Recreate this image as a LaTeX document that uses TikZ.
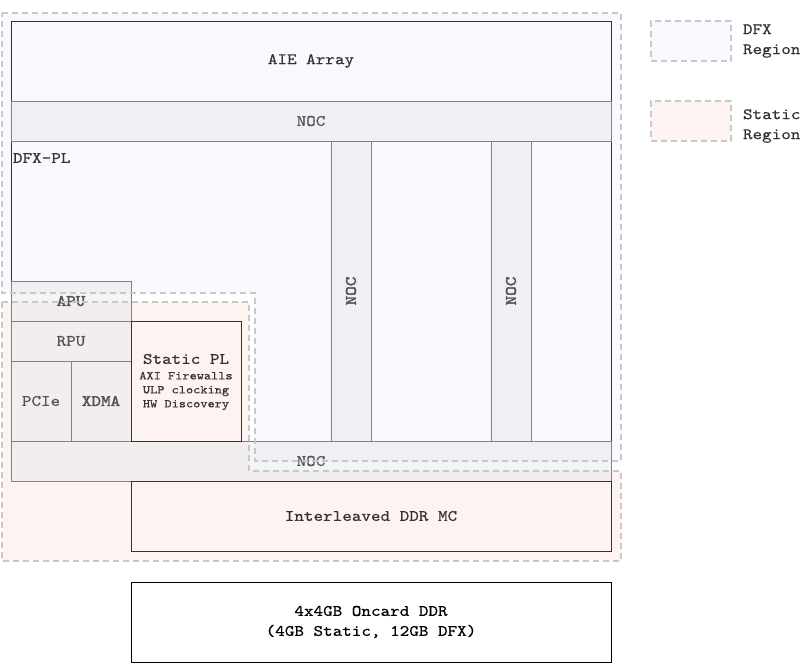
\documentclass[tikz,border=0pt]{standalone}
\usepackage{fontspec}
\newfontfamily\monofam{lmmono10-regular.otf}[FakeStretch=1.14, FakeBold=0.5,
  BoldFont=lmmono10-regular.otf, BoldFeatures={FakeBold=2.5}]
\begin{document}
\definecolor{dfxfill}{RGB}{247,249,254}
\definecolor{stfill}{RGB}{253,244,242}
\definecolor{nocfill}{RGB}{232,233,236}
\definecolor{regline}{RGB}{200,200,200}
\definecolor{darkline}{RGB}{51,51,51}
\definecolor{greyline}{RGB}{130,130,130}
\definecolor{greytext}{RGB}{85,85,85}
\begin{tikzpicture}[x=1pt,y=-1pt,
  every node/.style={inner sep=0pt, outer sep=0pt, font=\monofam\fontsize{16}{20}\selectfont},
  boldlbl/.style={font=\monofam\bfseries\fontsize{16}{20}\selectfont},
  mainbox/.style={draw=darkline, line width=1pt, rectangle, text=darkline},
  nocbox/.style={draw=greyline, line width=0.9pt, rectangle, fill=nocfill, fill opacity=0.5, text opacity=1, text=greytext},
  pinkbox/.style={draw=darkline, line width=1pt, rectangle, fill=stfill, text=darkline},
  region/.style={draw=regline, line width=1.6pt, dash pattern=on 6pt off 4pt},
  legtext/.style={anchor=west, align=left, text=darkline}]
\useasboundingbox (0,0) rectangle (800,662);

% region backgrounds
\fill[dfxfill] (2,13) -- (621,13) -- (621,461) -- (255,461) -- (255,293) -- (2,293) -- cycle;
\fill[stfill] (2,302) -- (249,302) -- (249,471) -- (621,471) -- (621,561) -- (2,561) -- cycle;

% DFX part
\node[mainbox, fill=dfxfill, minimum width=600, minimum height=80] (aie) at (311,61) {AIE Array};
\node[mainbox, minimum width=600, minimum height=300] (dfxpl) at (311,291) {};
\node[anchor=west, text=darkline] (dfxpllbl) at (13,158) {DFX-PL};
\node[nocbox, minimum width=600, minimum height=40] (noctop) at (311,121) {NOC};
\node[nocbox, boldlbl, rotate=90, minimum width=300, minimum height=40] (nocv1) at (351,291) {NOC};
\node[nocbox, boldlbl, rotate=90, minimum width=300, minimum height=40] (nocv2) at (511,291) {NOC};
\node[nocbox, minimum width=600, minimum height=40] (nocbot) at (311,461) {};
\node[text=greytext] (nocbotlbl) at (311,461) {NOC};

% static part
\node[nocbox, boldlbl, minimum width=120, minimum height=40] (apu) at (71,301) {APU};
\node[nocbox, minimum width=120, minimum height=40] (rpu) at (71,341) {RPU};
\node[nocbox, minimum width=60, minimum height=80] (pcie) at (41,401) {PCIe};
\node[nocbox, boldlbl, minimum width=60, minimum height=80] (xdma) at (101,401) {XDMA};
\node[pinkbox, minimum width=110, minimum height=120] (spl) at (186,381) {};
\node[text=darkline] (spltitle) at (186,359) {Static PL};
\node[text=darkline, align=center, font=\monofam\fontsize{12}{14}\selectfont] (splsub) at (186,391) {AXI Firewalls\\ULP clocking\\HW Discovery};
\node[pinkbox, minimum width=480, minimum height=70] (ddrmc) at (371,516) {Interleaved DDR MC};

% region outlines
\draw[region] (2,13) -- (621,13) -- (621,461) -- (255,461) -- (255,293) -- (2,293) -- cycle;
\draw[region] (2,302) -- (249,302) -- (249,471) -- (621,471) -- (621,561) -- (2,561) -- cycle;

% on-card memory
\node[draw=black, line width=1pt, rectangle, fill=white, minimum width=480, minimum height=80, align=center, text=black] (ddr) at (371,622) {4x4GB Oncard DDR\\(4GB Static, 12GB DFX)};

% legend
\node[region, fill=dfxfill, minimum width=80, minimum height=40] (legdfx) at (691,41) {};
\node[legtext] (legdfxlbl) at (743,41) {DFX\\Region};
\node[region, fill=stfill, minimum width=80, minimum height=40] (legst) at (691,121) {};
\node[legtext] (legstlbl) at (743,126) {Static\\Region};
\end{tikzpicture}
\end{document}
